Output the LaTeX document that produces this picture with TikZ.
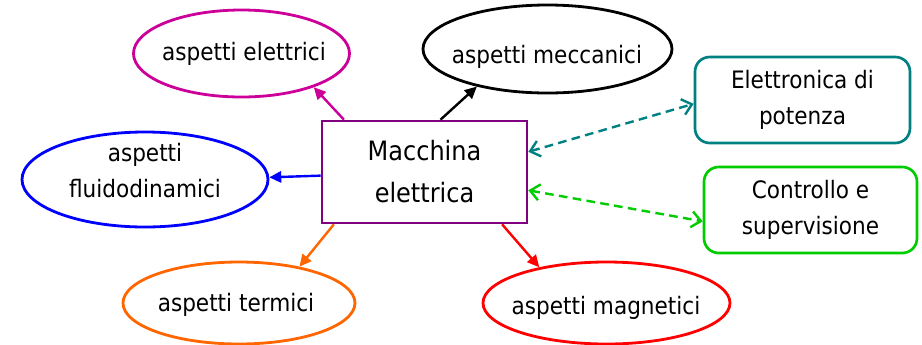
\documentclass[tikz,border=0pt]{standalone}
\usepackage{fontspec}
\setmainfont{DejaVu Sans}[FakeStretch=0.9]
\usetikzlibrary{shapes.geometric,arrows.meta}
\definecolor{cmag}{RGB}{204,0,153}
\definecolor{cteal}{RGB}{0,128,128}
\definecolor{cgreen}{RGB}{0,204,0}
\definecolor{corange}{RGB}{255,102,0}
\definecolor{cpurple}{RGB}{128,0,128}
\definecolor{cred}{RGB}{255,0,0}
\definecolor{cblue}{RGB}{0,0,255}
\tikzset{
  ell/.style={ellipse, draw, line width=2.1pt, inner sep=0pt},
  txt/.style={font=\fontsize{18}{27}\selectfont, inner sep=0pt, align=center},
  mainbox/.style={rectangle, draw=cpurple, line width=2pt, align=center,
     font=\fontsize{20}{31.5}\selectfont, minimum width=205*0.75pt, minimum height=102*0.75pt},
  rbox/.style={rectangle, rounded corners=11pt, draw, line width=2pt, align=center,
     font=\fontsize{18}{27}\selectfont},
  sol/.style={line width=1.8pt, -{Triangle[length=9pt,width=8.5pt]}},
  dsh/.style={line width=1.8pt, dash pattern=on 6.5pt off 4pt,
     {Straight Barb[length=7pt,width=12pt]}-{Straight Barb[length=7pt,width=12pt]}}
}
\begin{document}
\begin{tikzpicture}[x=0.75pt,y=-0.75pt]
\useasboundingbox (0,0) rectangle (922,344);
% central box
\node[mainbox] (mac) at (424.5,172) {Macchina\\elettrica};
% ellipses
\node[ell, draw=cmag, minimum width=216*0.75pt, minimum height=87*0.75pt] (elet) at (241.5,53.5) {};
\node[txt, anchor=base] (eletT) at (244,60) {aspetti elettrici};
\node[ell, draw=black, minimum width=249*0.75pt, minimum height=88*0.75pt] (mecc) at (547.5,49) {};
\node[txt, anchor=base] (meccT) at (547,63) {aspetti meccanici};
\node[ell, draw=cblue, minimum width=246*0.75pt, minimum height=95*0.75pt] (flu) at (145,179.5) {};
\node[txt] (fluT) at (145,171) {aspetti\\fluidodinamici};
\node[ell, draw=corange, minimum width=232*0.75pt, minimum height=82*0.75pt] (ter) at (239,303) {};
\node[txt, anchor=base] (terT) at (236,311) {aspetti termici};
\node[ell, draw=cred, minimum width=247*0.75pt, minimum height=82*0.75pt] (mag) at (606.5,303) {};
\node[txt, anchor=base] (magT) at (606,314) {aspetti magnetici};
% right boxes
\node[rbox, draw=cteal, minimum width=215*0.75pt, minimum height=86*0.75pt] (elp) at (802.5,100) {Elettronica di\\potenza};
\node[rbox, draw=cgreen, minimum width=213*0.75pt, minimum height=86*0.75pt] (ctr) at (810.5,210) {Controllo e\\supervisione};
% connectors
\draw[sol, cmag] (mac.147.3) -- (elet.-25.5);
\draw[sol, black] (mac.73.1) -- (mecc.208.2);
\draw[sol, cblue] (mac.182.2) -- (flu.1.6);
\draw[sol, corange] (mac.210.2) -- (ter.31.1);
\draw[sol, cred] (mac.-34) -- (mag.152.9);
\draw[dsh, cteal] (mac.11.6) -- (elp.182.7);
\draw[dsh, cgreen] (mac.-10.5) -- (ctr.186.4);
\end{tikzpicture}
\end{document}
